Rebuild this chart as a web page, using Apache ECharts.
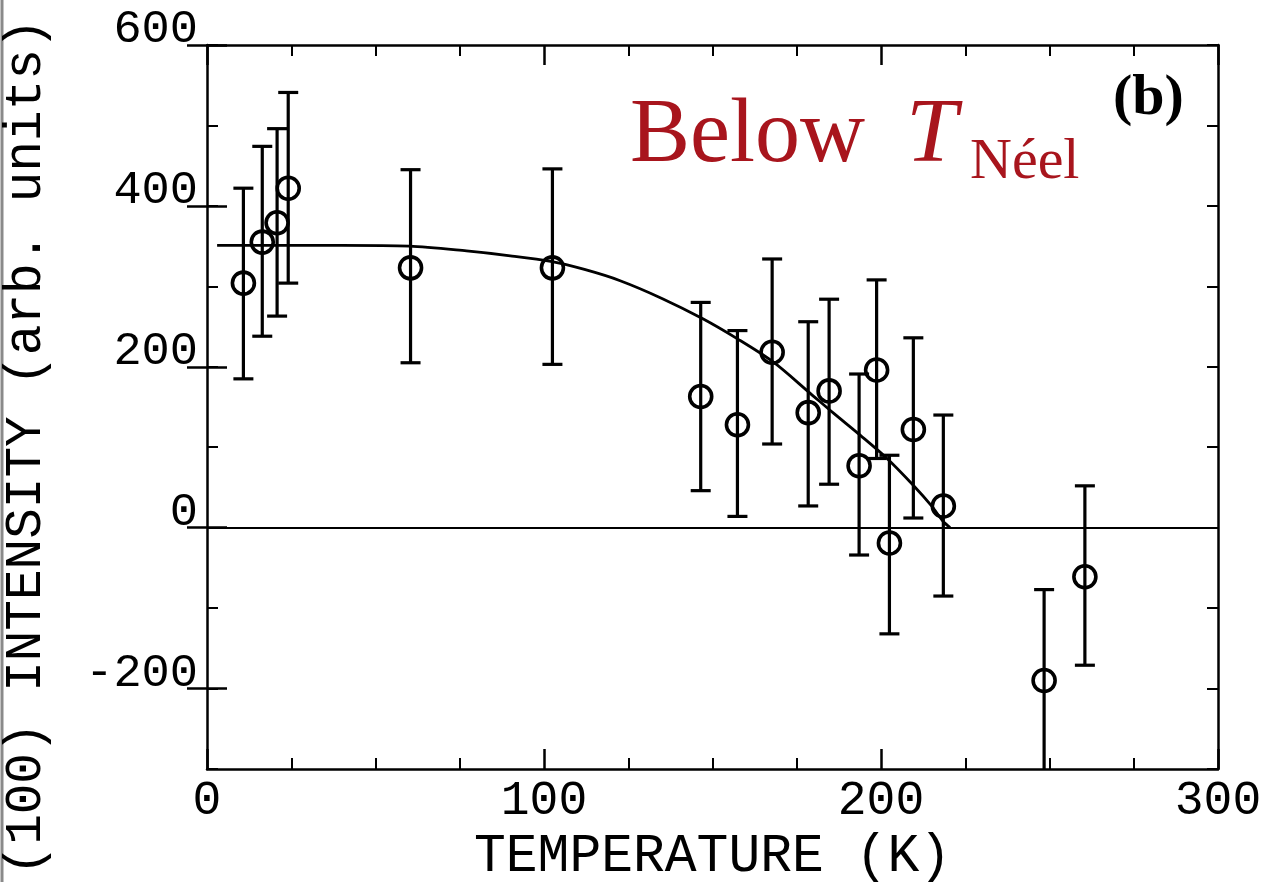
<!DOCTYPE html>
<html>
<head>
<meta charset="utf-8">
<title>(100) intensity vs temperature</title>
<script src="https://cdn.jsdelivr.net/npm/echarts@6/dist/echarts.min.js"></script>
<style>
  html, body { margin: 0; padding: 0; background: #fff; }
  #chart { width: 1270px; height: 882px; }
</style>
</head>
<body>
<div id="chart"></div>
<script>
// measured points (K, arb. units) with error bar ends
var temps     = [10.8, 16.4, 20.8, 24.1, 60.4, 102.5, 146.5, 157.4, 167.7, 178.4, 184.6, 193.5, 198.7, 202.5, 209.6, 218.5, 248.4, 260.5]
var intensity = [304, 355, 379, 422, 323, 323, 163, 128, 218, 143, 170, 77, 196, -19, 122, 27, -190, -61]
var errLow    = [185, 238, 263, 304, 205, 203, 46, 14, 104, 27, 54, -34, 86, -132, 12, -85, -330, -171]
var errHigh   = [422, 474, 496, 541, 445, 446, 280, 245, 334, 256, 284, 191, 308, 90, 236, 140, -77, 52]

// fitted curve
var fitT = [3, 20, 40, 60, 77, 90, 102, 112, 122.6, 135, 147, 157.3, 168, 179, 186, 193.8, 201.8, 209.5, 215, 218.4, 220.5]
var fitI = [351, 351, 351, 350, 344, 338, 331, 321, 307, 285, 260, 235, 206, 167, 142, 115, 86, 53, 27, 8, 0]

// tick labels
var xTicks = [0, 100, 200, 300]
var yTicks = [-200, 0, 200, 400, 600]

var points = temps.map(function (t, i) { return [t, intensity[i]] })
var bars = temps.map(function (t, i) { return [t, errLow[i], errHigh[i]] })
var fit = fitT.map(function (t, i) { return [t, fitI[i]] })

var monoFont = '"Liberation Mono", "DejaVu Sans Mono", monospace'
var serifFont = '"Liberation Serif", "DejaVu Serif", serif'
var red = '#a8151d'
var lineW = 2.5

function xAxisCfg(pos, withLabels) {
  return {
    type: 'value', position: pos, min: 0, max: 300, interval: 100,
    axisLine: { show: true, onZero: false, lineStyle: { color: '#000', width: lineW } },
    axisTick: { show: true, inside: true, length: 20, lineStyle: { color: '#000', width: lineW } },
    minorTick: { show: true, splitNumber: 4, length: 11, lineStyle: { color: '#000', width: 2 } },
    axisLabel: {
      show: withLabels, margin: 8, color: '#000', fontFamily: monoFont, fontSize: 48,
      customValues: xTicks
    },
    splitLine: { show: false },
    name: withLabels ? 'TEMPERATURE (K)' : '',
    nameLocation: 'middle', nameGap: 61,
    nameTextStyle: { color: '#000', fontFamily: monoFont, fontSize: 53 }
  }
}

function yMinor(pos) {
  return {
    type: 'value', position: pos, min: -300, max: 600, interval: 100,
    axisLine: { show: true, onZero: false, lineStyle: { color: '#000', width: lineW } },
    axisTick: { show: true, inside: true, length: 11, lineStyle: { color: '#000', width: 2 } },
    axisLabel: { show: false },
    splitLine: { show: false }
  }
}

function yMajor(pos, withLabels) {
  return {
    type: 'value', position: pos, min: -300, max: 600, interval: 100,
    axisLine: { show: false },
    axisTick: { show: true, inside: true, length: 20, customValues: yTicks, lineStyle: { color: '#000', width: lineW } },
    axisLabel: {
      show: withLabels, margin: 9, color: '#000', fontFamily: monoFont, fontSize: 47,
      verticalAlign: 'bottom', lineHeight: 30,
      customValues: yTicks
    },
    splitLine: { show: false }
  }
}

var chart = echarts.init(document.getElementById('chart'), null, { renderer: 'canvas' })

chart.setOption({
  backgroundColor: '#fff',
  animation: false,
  grid: { left: 207, right: 52, top: 45, bottom: 113, outerBoundsMode: 'none', containLabel: false },
  xAxis: [xAxisCfg('bottom', true), xAxisCfg('top', false)],
  yAxis: [yMinor('left'), yMajor('left', true), yMinor('right'), yMajor('right', false)],
  graphic: [
    {
      type: 'line', silent: true,
      shape: { x1: 2, y1: 0, x2: 2, y2: 882 },
      style: { stroke: '#8a8a8a', lineWidth: 3 }
    },
    {
      type: 'text', silent: true,
      x: 26, y: 447, rotation: Math.PI / 2,
      style: {
        text: '(100) INTENSITY (arb. units)', fill: '#000',
        font: '51px ' + monoFont, align: 'center', verticalAlign: 'middle'
      }
    },
    {
      type: 'text', silent: true, x: 630, y: 182,
      style: {
        text: 'Below', fill: red,
        font: '90px ' + serifFont,
        align: 'left', verticalAlign: 'bottom'
      }
    },
    {
      type: 'text', silent: true, x: 906, y: 183,
      style: {
        text: 'T', fill: red,
        font: 'italic 92px ' + serifFont,
        align: 'left', verticalAlign: 'bottom'
      }
    },
    {
      type: 'text', silent: true, x: 970, y: 192,
      style: {
        text: 'Néel', fill: red,
        font: '58px ' + serifFont,
        align: 'left', verticalAlign: 'bottom'
      }
    },
    {
      type: 'text', silent: true, x: 1113, y: 128,
      style: {
        text: '(b)', fill: '#000',
        font: 'bold 58px ' + serifFont,
        align: 'left', verticalAlign: 'bottom'
      }
    }
  ],
  series: [
    {
      name: 'fit',
      type: 'line',
      data: fit,
      smooth: 0.3,
      showSymbol: false,
      silent: true,
      lineStyle: { color: '#000', width: 2.8 },
      markLine: {
        silent: true,
        symbol: 'none',
        label: { show: false },
        lineStyle: { color: '#000', width: 2, type: 'solid' },
        data: [{ yAxis: 0 }]
      },
      z: 2
    },
    {
      name: 'error',
      type: 'custom',
      clip: true,
      data: bars,
      renderItem: function (params, api) {
        var lo = api.coord([api.value(0), api.value(1)])
        var hi = api.coord([api.value(0), api.value(2)])
        var w = 10
        var st = { stroke: '#000', lineWidth: 3.2 }
        return {
          type: 'group',
          children: [
            { type: 'line', shape: { x1: hi[0], y1: hi[1], x2: lo[0], y2: lo[1] }, style: st },
            { type: 'line', shape: { x1: hi[0] - w, y1: hi[1], x2: hi[0] + w, y2: hi[1] }, style: st },
            { type: 'line', shape: { x1: lo[0] - w, y1: lo[1], x2: lo[0] + w, y2: lo[1] }, style: st }
          ]
        }
      },
      z: 3
    },
    {
      name: 'data',
      type: 'scatter',
      data: points,
      symbol: 'circle',
      symbolSize: 22,
      itemStyle: { color: 'rgba(0,0,0,0)', borderColor: '#000', borderWidth: 3.6, opacity: 1 },
      z: 4
    }
  ]
})
</script>
</body>
</html>
